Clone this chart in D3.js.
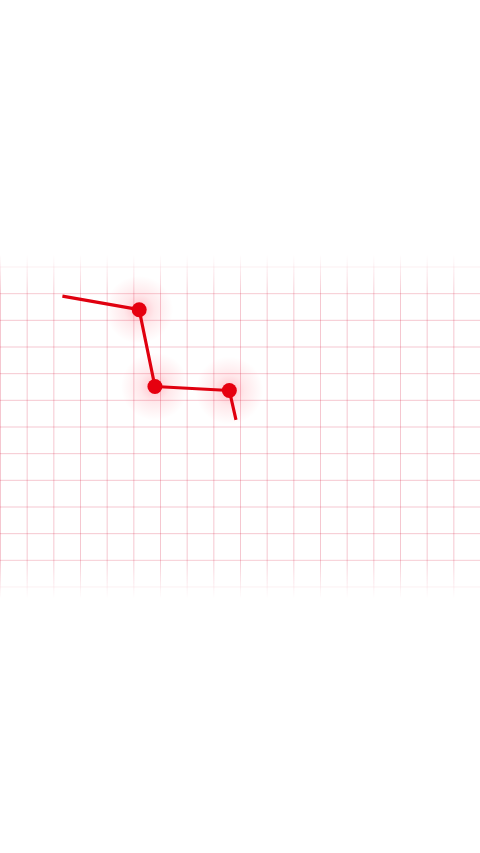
<!DOCTYPE html>
<html>
<head>
<meta charset="utf-8">
<script src="https://cdn.jsdelivr.net/npm/d3@7"></script>
<style>
html, body { margin: 0; padding: 0; background: #fff; }
svg { display: block; }
</style>
</head>
<body>
<script>
// grid steps along each axis
var xTicks = d3.range(0, 19);
var yTicks = d3.range(0, 13);

// series (grid units, y up)
var seriesX = [2.34, 5.22, 5.81, 8.60, 8.85];
var seriesY = [10.89, 10.38, 7.50, 7.35, 6.25];
var hasDot = [false, true, true, true, false];

var width = 480, height = 853;
var plotTop = (height - 320) / 2, plotH = 320;

var x = d3.scaleLinear().domain([0, 18]).range([0, width]);
var y = d3.scaleLinear().domain([0, 12]).range([plotTop + plotH, plotTop]);

var svg = d3.select("body").append("svg")
	.attr("width", width)
	.attr("height", height);

var defs = svg.append("defs");

var fade = defs.append("linearGradient")
	.attr("id", "fade")
	.attr("x1", 0).attr("y1", 0).attr("x2", 0).attr("y2", 1);
fade.append("stop").attr("offset", "0%").attr("stop-color", "#fff").attr("stop-opacity", 0);
fade.append("stop").attr("offset", "12%").attr("stop-color", "#fff").attr("stop-opacity", 1);
fade.append("stop").attr("offset", "88%").attr("stop-color", "#fff").attr("stop-opacity", 1);
fade.append("stop").attr("offset", "100%").attr("stop-color", "#fff").attr("stop-opacity", 0);

defs.append("mask").attr("id", "gridMask")
	.append("rect")
	.attr("x", 0).attr("y", plotTop - 12)
	.attr("width", width).attr("height", plotH + 24)
	.attr("fill", "url(#fade)");

var glow = defs.append("radialGradient").attr("id", "glow");
glow.append("stop").attr("offset", "0%").attr("stop-color", "#ff0020").attr("stop-opacity", 0.24);
glow.append("stop").attr("offset", "45%").attr("stop-color", "#ff0020").attr("stop-opacity", 0.09);
glow.append("stop").attr("offset", "100%").attr("stop-color", "#ff0020").attr("stop-opacity", 0);

var grid = svg.append("g").attr("mask", "url(#gridMask)");

grid.selectAll("line.v")
	.data(xTicks)
	.enter().append("line")
	.attr("class", "v")
	.attr("x1", function(d){ return x(d) + 0.5; })
	.attr("x2", function(d){ return x(d) + 0.5; })
	.attr("y1", plotTop - 12)
	.attr("y2", plotTop + plotH + 12)
	.attr("stroke", "rgba(215,20,60,0.24)")
	.attr("stroke-width", 1);

grid.selectAll("line.h")
	.data(yTicks)
	.enter().append("line")
	.attr("class", "h")
	.attr("x1", 0)
	.attr("x2", width)
	.attr("y1", function(d){ return y(d) + 0.5; })
	.attr("y2", function(d){ return y(d) + 0.5; })
	.attr("stroke", "rgba(215,20,60,0.24)")
	.attr("stroke-width", 1);

var pts = seriesX.map(function(d, i){ return {x: d, y: seriesY[i], dot: hasDot[i]}; });
var dots = pts.filter(function(d){ return d.dot; });

svg.selectAll("circle.glow")
	.data(dots)
	.enter().append("circle")
	.attr("class", "glow")
	.attr("cx", function(d){ return x(d.x); })
	.attr("cy", function(d){ return y(d.y); })
	.attr("r", 34)
	.attr("fill", "url(#glow)");

var line = d3.line()
	.x(function(d){ return x(d.x); })
	.y(function(d){ return y(d.y); });

svg.append("path")
	.datum(pts)
	.attr("d", line)
	.attr("fill", "none")
	.attr("stroke", "#e0000f")
	.attr("stroke-width", 3.2)
	.attr("stroke-linejoin", "round");

svg.selectAll("circle.dot")
	.data(dots)
	.enter().append("circle")
	.attr("class", "dot")
	.attr("cx", function(d){ return x(d.x); })
	.attr("cy", function(d){ return y(d.y); })
	.attr("r", 7.5)
	.attr("fill", "#e6000f");
</script>
</body>
</html>
